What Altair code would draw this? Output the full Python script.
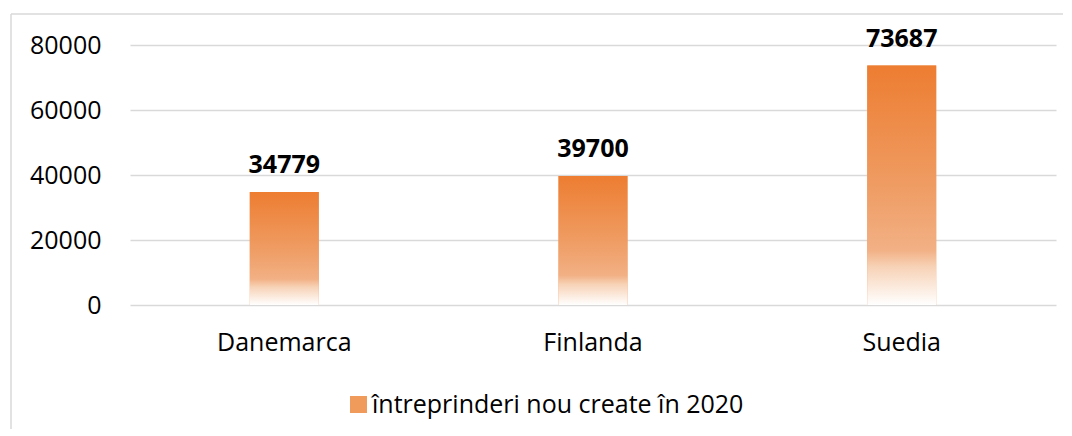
import altair as alt
import pandas as pd

categories = ["Danemarca", "Finlanda", "Suedia"]
values = [34779, 39700, 73687]
series_name = "întreprinderi nou create în 2020"
y_ticks = [0, 20000, 40000, 60000, 80000]

df = pd.DataFrame({"tara": categories, "valoare": values, "serie": [series_name] * len(categories)})
frame_df = pd.DataFrame({"k": [0]})

FONT = "Open Sans"
TXT = "#000000"

grad = alt.LinearGradient(
    gradient="linear", x1=0, x2=0, y1=0, y2=1,
    stops=[
        alt.GradientStop(color="#ED7D31", offset=0),
        alt.GradientStop(color="#EF9C63", offset=0.5),
        alt.GradientStop(color="#F2B084", offset=0.77),
        alt.GradientStop(color="#F7D2B6", offset=0.84),
        alt.GradientStop(color="#FFFFFF", offset=1),
    ],
)

x = alt.X(
    "tara:N", sort=categories, title=None,
    scale=alt.Scale(paddingInner=0.7765, paddingOuter=0.388),
    axis=alt.Axis(labelAngle=0, labelFontSize=25, labelFont=FONT, labelColor=TXT,
                  labelPadding=25, ticks=False, domain=False, grid=False),
)
y = alt.Y(
    "valoare:Q", title=None,
    scale=alt.Scale(domain=[0, 80000]),
    axis=alt.Axis(values=y_ticks, labelFontSize=25, labelFont=FONT, labelColor=TXT,
                  ticks=False, tickSize=0, domain=False, grid=True, gridColor="#D9D9D9",
                  gridWidth=1.3, labelPadding=29, format="d"),
)

legend_layer = alt.Chart(df).mark_bar().encode(
    x=x, y=y,
    color=alt.Color(
        "serie:N", scale=alt.Scale(range=["#F09A5C"]),
        legend=alt.Legend(title=None, orient="none", legendX=216, legendY=347,
                          symbolType="square", symbolSize=289, symbolStrokeWidth=0,
                          labelFontSize=25, labelFont=FONT, labelColor=TXT,
                          padding=0, labelOffset=1, labelLimit=700),
    ),
)

bars = alt.Chart(df).mark_bar(fill=grad).encode(x=x, y=y)

labels = alt.Chart(df).mark_text(
    fontSize=25, fontWeight="bold", font=FONT, dy=-27, color="#000000", baseline="middle"
).encode(x=x, y=y, text=alt.Text("valoare:Q", format="d"))

frame_left = alt.Chart(frame_df).mark_rule(color="#D9D9D9", strokeWidth=1.5).encode(
    x=alt.value(-119), y=alt.value(-31), y2=alt.value(384)
)
frame_top = alt.Chart(frame_df).mark_rule(color="#D9D9D9", strokeWidth=1.5).encode(
    y=alt.value(-31), x=alt.value(-119), x2=alt.value(933)
)

chart = alt.layer(frame_left, frame_top, legend_layer, bars, labels).properties(
    width=926, height=260,
    padding={"left": 2, "top": 5, "right": 0, "bottom": 0},
).configure_view(stroke=None)

chart.save("out.html", embed_options={"renderer": "svg", "actions": False})
